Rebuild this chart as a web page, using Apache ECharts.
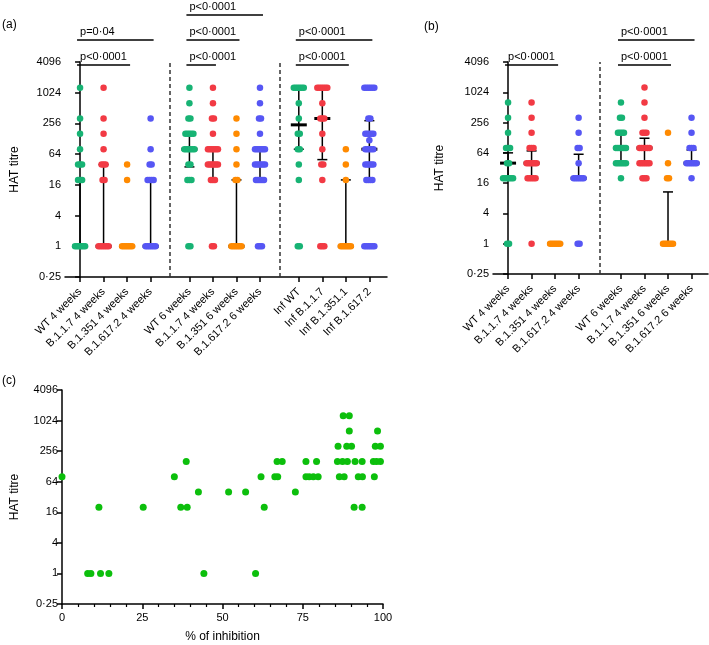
<!DOCTYPE html>
<html>
<head>
<meta charset="utf-8">
<script src="https://cdn.jsdelivr.net/npm/echarts@6/dist/echarts.min.js"></script>
<style>
html, body { margin: 0; padding: 0; background: #fff; }
#main { width: 709px; height: 645px; }
</style>
</head>
<body>
<div id="main"></div>
<script>
// ---- panel (a) ----
const labelsA = ['WT 4 weeks', 'B.1.1.7 4 weeks', 'B.1.351 4 weeks', 'B.1.617.2 4 weeks',
    'WT 6 weeks', 'B.1.1.7 4 weeks', 'B.1.351 6 weeks', 'B.1.617.2 6 weeks',
    'Inf WT', 'Inf B.1.1.7', 'Inf B.1.351.1', 'Inf B.1.617.2'];
const aWT4 = [1280, 320, 160, 80, 40, 40, 40, 20, 20, 20, 1, 1, 1, 1, 1, 1];
const aAlpha4 = [1280, 320, 160, 80, 40, 40, 40, 20, 20, 1, 1, 1, 1, 1, 1];
const aBeta4 = [40, 20, 1, 1, 1, 1, 1, 1];
const aDelta4 = [320, 80, 40, 40, 20, 20, 20, 20, 1, 1, 1, 1, 1, 1];
const aWT6 = [1280, 640, 320, 320, 160, 160, 160, 160, 160, 80, 80, 80, 80, 80, 80, 40, 40, 20, 20, 20, 1, 1];
const aAlpha6 = [1280, 640, 320, 320, 160, 80, 80, 80, 80, 80, 80, 40, 40, 40, 40, 40, 40, 20, 20, 20, 1, 1];
const aBeta6 = [320, 160, 80, 40, 20, 20, 1, 1, 1, 1, 1, 1];
const aDelta6 = [1280, 640, 320, 320, 160, 80, 80, 80, 80, 80, 80, 40, 40, 40, 40, 40, 40, 20, 20, 20, 20, 20, 1, 1, 1];
const aInfWT = [1280, 1280, 1280, 1280, 1280, 1280, 640, 320, 160, 160, 80, 80, 40, 20, 1, 1];
const aInfAlpha = [1280, 1280, 1280, 1280, 1280, 1280, 640, 320, 320, 320, 160, 80, 40, 40, 20, 1, 1, 1];
const aInfBeta = [80, 40, 20, 1, 1, 1, 1, 1, 1];
const aInfDelta = [1280, 1280, 1280, 1280, 1280, 1280, 320, 320, 160, 160, 160, 160, 160, 120,
    80, 80, 80, 80, 80, 40, 40, 40, 40, 40, 20, 20, 20, 20, 1, 1, 1, 1, 1, 1];
const medianA = [1, 1, 1, 1, 80, 40, 1, 40, 240, 320, 1, 80];
const lowA = [1, 1, 1, 1, 36, 20, 1, 20, 80, 50, 1, 20];
const highA = [20, 40, 1, 20, 160, 75, 20, 80, 1280, 1280, 20, 290];
const bracketsA = [
    { from: 0, to: 2, text: 'p<0·0001' }, { from: 0, to: 3, text: 'p=0·04' },
    { from: 4, to: 5, text: 'p<0·0001' }, { from: 4, to: 6, text: 'p<0·0001' }, { from: 4, to: 7, text: 'p<0·0001' },
    { from: 8, to: 10, text: 'p<0·0001' }, { from: 8, to: 11, text: 'p<0·0001' }
];

// ---- panel (b) ----
const labelsB = ['WT 4 weeks', 'B.1.1.7 4 weeks', 'B.1.351 4 weeks', 'B.1.617.2 4 weeks',
    'WT 6 weeks', 'B.1.1.7 4 weeks', 'B.1.351 6 weeks', 'B.1.617.2 6 weeks'];
const bWT4 = [640, 320, 160, 80, 80, 80, 40, 40, 20, 20, 20, 20, 20, 20, 1, 1];
const bAlpha4 = [640, 320, 160, 80, 80, 80, 40, 40, 40, 40, 40, 40, 20, 20, 20, 20, 20, 1];
const bBeta4 = [1, 1, 1, 1, 1, 1];
const bDelta4 = [320, 160, 80, 80, 40, 20, 20, 20, 20, 20, 20, 1, 1];
const bWT6 = [640, 320, 320, 160, 160, 160, 160, 80, 80, 80, 80, 80, 80, 40, 40, 40, 40, 40, 40, 20];
const bAlpha6 = [1280, 640, 320, 160, 160, 160, 80, 80, 80, 80, 80, 80, 40, 40, 40, 40, 40, 40, 20, 20, 20];
const bBeta6 = [160, 40, 20, 20, 1, 1, 1, 1, 1, 1];
const bDelta6 = [320, 160, 80, 80, 80, 40, 40, 40, 40, 40, 40, 20];
const medianB = [40, 40, 1, 20, 80, 80, 1, 40];
const lowB = [20, 20, 1, 20, 40, 40, 1, 40];
const highB = [64, 70, 1, 60, 150, 125, 10.7, 73];
const bracketsB = [
    { from: 0, to: 2, text: 'p<0·0001' },
    { from: 4, to: 6, text: 'p<0·0001' }, { from: 4, to: 7, text: 'p<0·0001' }
];

// ---- panel (c) ----
const inhibition = [0, 8, 9, 12, 14.6, 11.5, 25.3, 35, 38.7, 37, 39, 42.5, 44.2, 51.9, 57.2, 60.3, 62, 63,
    66.3, 67.2, 67, 68.6, 72.7, 76, 76, 77, 78.3, 79.8, 79.3, 86, 85.8, 87.4, 88.9, 86.4, 87.9,
    88.7, 90.2, 89.5, 87.6, 89.5, 91.3, 91, 92.3, 93.6, 93.5, 93.5, 97.3, 97, 98, 99.2, 97.6, 99.2, 98.3];
const inhibTitre = [80, 1, 1, 1, 1, 20, 20, 80, 160, 20, 20, 40, 1, 40, 40, 1, 80, 20,
    80, 80, 160, 160, 40, 160, 80, 80, 80, 80, 160, 320, 160, 160, 160, 80, 80,
    320, 320, 640, 1280, 1280, 160, 20, 80, 80, 160, 20, 80, 160, 160, 160, 320, 320, 640];

const colors = ['#17b374', '#f23a44', '#ff8a00', '#5656f4'];
const font = "'Liberation Sans', Arial, sans-serif";

const colsA = [aWT4, aAlpha4, aBeta4, aDelta4, aWT6, aAlpha6, aBeta6, aDelta6, aInfWT, aInfAlpha, aInfBeta, aInfDelta];
const colsB = [bWT4, bAlpha4, bBeta4, bDelta4, bWT6, bAlpha6, bBeta6, bDelta6];

// column positions on the value x axis: groups of 4 with a gap between them
const posA = labelsA.map((_, i) => i + Math.floor(i / 4) * 0.65);
const posB = labelsB.map((_, i) => i + Math.floor(i / 4) * 0.8);

function spread(vals, pos, step) {
    const counts = {};
    vals.forEach(v => { counts[v] = (counts[v] || 0) + 1; });
    const out = [];
    Object.keys(counts).forEach(k => {
        const n = counts[k];
        for (let i = 0; i < n; i++) out.push([pos + (i - (n - 1) / 2) * step, +k]);
    });
    return out;
}

function fmtTitre(v) {
    return v < 0.5 ? '0·25' : String(Math.round(v));
}

function labelFor(labels, pos) {
    return v => {
        const i = pos.findIndex(p => Math.abs(p - v) < 1e-6);
        return i < 0 ? '' : labels[i];
    };
}

const axisLine = { show: true, lineStyle: { color: '#000', width: 1.5 } };
const axisTick = { show: true, length: 5, lineStyle: { color: '#000', width: 1.5 } };

function yAxisLog(gridIndex, gap) {
    return {
        type: 'log', logBase: 4, min: 0.25, max: 4096, gridIndex: gridIndex,
        axisLine: axisLine, axisTick: axisTick, splitLine: { show: false },
        axisLabel: { formatter: fmtTitre, color: '#000', fontSize: 11, fontFamily: font, margin: 4 },
        name: 'HAT titre', nameLocation: 'middle', nameGap: gap, nameRotate: 90,
        nameTextStyle: { color: '#000', fontSize: 12, fontFamily: font }
    };
}

function xAxisCols(gridIndex, labels, pos, min, max) {
    return {
        type: 'value', gridIndex: gridIndex, min: min, max: max,
        axisLine: axisLine, splitLine: { show: false },
        axisTick: Object.assign({ customValues: pos }, axisTick),
        axisLabel: {
            customValues: pos, rotate: 45, margin: 13, color: '#000', fontSize: 11, fontFamily: font,
            formatter: labelFor(labels, pos)
        }
    };
}

function dotSeries(axisIdx, cols, pos, separators) {
    const list = [];
    for (let c = 0; c < 4; c++) {
        let data = [];
        cols.forEach((vals, i) => { if (i % 4 === c) data = data.concat(spread(vals, pos[i], 0.085)); });
        const s = {
            type: 'scatter', xAxisIndex: axisIdx, yAxisIndex: axisIdx, data: data,
            symbolSize: 6.5, itemStyle: { color: colors[c], opacity: 1 }, z: 3, silent: true
        };
        if (c === 0) {
            s.markLine = {
                silent: true, symbol: 'none', label: { show: false },
                lineStyle: { color: '#333', type: [4, 3], width: 1.5 },
                data: separators.map(x => ({ xAxis: x }))
            };
        }
        list.push(s);
    }
    return list;
}

function errorSeries(axisIdx, pos, med, low, high) {
    return {
        type: 'custom', xAxisIndex: axisIdx, yAxisIndex: axisIdx, z: 2, silent: true,
        encode: { x: 0, y: [1, 2, 3] },
        data: pos.map((p, i) => [p, low[i], med[i], high[i]]),
        renderItem: function (params, api) {
            const lo = api.coord([api.value(0), api.value(1)]);
            const md = api.coord([api.value(0), api.value(2)]);
            const hi = api.coord([api.value(0), api.value(3)]);
            const st = { stroke: '#000', lineWidth: 1.5 };
            return {
                type: 'group', children: [
                    { type: 'line', shape: { x1: lo[0], y1: lo[1], x2: hi[0], y2: hi[1] }, style: st },
                    { type: 'line', shape: { x1: lo[0] - 5, y1: lo[1], x2: lo[0] + 5, y2: lo[1] }, style: st },
                    { type: 'line', shape: { x1: hi[0] - 5, y1: hi[1], x2: hi[0] + 5, y2: hi[1] }, style: st },
                    { type: 'line', shape: { x1: md[0] - 8, y1: md[1], x2: md[0] + 8, y2: md[1] }, style: { stroke: '#000', lineWidth: 3 } }
                ]
            };
        }
    };
}

function bracketSeries(axisIdx, brackets, pos) {
    const levels = brackets.map(b => brackets.filter(o => o.from === b.from && o.to < b.to).length);
    return {
        type: 'custom', xAxisIndex: axisIdx, yAxisIndex: axisIdx, z: 4, silent: true, clip: false,
        encode: { x: [0, 1], y: 2 },
        data: brackets.map(b => [pos[b.from], pos[b.to], 4096]),
        renderItem: function (params, api) {
            const i = params.dataIndex;
            const p1 = api.coord([api.value(0), api.value(2)]);
            const p2 = api.coord([api.value(1), api.value(2)]);
            const y = p1[1] + 3 - levels[i] * 25;
            return {
                type: 'group', children: [
                    { type: 'line', shape: { x1: p1[0] - 3, y1: y, x2: p2[0] + 3, y2: y }, style: { stroke: '#000', lineWidth: 1.5 } },
                    {
                        type: 'text', x: p1[0], y: y - 3,
                        style: { text: brackets[i].text, fill: '#000', font: '11px ' + font, textVerticalAlign: 'bottom', verticalAlign: 'bottom' }
                    }
                ]
            };
        }
    };
}

const chart = echarts.init(document.getElementById('main'), null, { renderer: 'canvas' });

const sepA = [(posA[3] + posA[4]) / 2, (posA[7] + posA[8]) / 2];
const sepB = [(posB[3] + posB[4]) / 2];

chart.setOption({
    animation: false,
    backgroundColor: '#fff',
    textStyle: { fontFamily: font },
    grid: [
        { left: 65, top: 62, width: 322, height: 215 },
        { left: 493, top: 62, width: 215, height: 212 },
        { left: 62, top: 390, width: 321, height: 214 }
    ],
    xAxis: [
        xAxisCols(0, labelsA, posA, -0.64, 13.05),
        xAxisCols(1, labelsB, posB, -0.64, 8.5),
        {
            type: 'value', gridIndex: 2, min: 0, max: 100, interval: 25,
            axisLine: axisLine, axisTick: axisTick, splitLine: { show: false },
            minorTick: { show: true, splitNumber: 5, length: 3, lineStyle: { color: '#000', width: 1.2 } },
            axisLabel: { color: '#000', fontSize: 11, fontFamily: font, margin: 8 },
            name: '% of inhibition', nameLocation: 'middle', nameGap: 27,
            nameTextStyle: { color: '#000', fontSize: 12, fontFamily: font }
        }
    ],
    yAxis: [yAxisLog(0, 44), yAxisLog(1, 47), yAxisLog(2, 41)],
    series: [
        errorSeries(0, posA, medianA, lowA, highA),
        ...dotSeries(0, colsA, posA, sepA),
        bracketSeries(0, bracketsA, posA),
        errorSeries(1, posB, medianB, lowB, highB),
        ...dotSeries(1, colsB, posB, sepB),
        bracketSeries(1, bracketsB, posB),
        {
            type: 'scatter', xAxisIndex: 2, yAxisIndex: 2, symbolSize: 7, silent: true,
            itemStyle: { color: '#0cbf0c', opacity: 1 },
            data: inhibition.map((x, i) => [x, inhibTitre[i]])
        }
    ],
    graphic: [
        { type: 'text', left: 2, top: 19, style: { text: '(a)', font: '12px ' + font, fill: '#000' } },
        { type: 'text', left: 424, top: 21, style: { text: '(b)', font: '12px ' + font, fill: '#000' } },
        { type: 'text', left: 2, top: 375, style: { text: '(c)', font: '12px ' + font, fill: '#000' } }
    ]
});
</script>
</body>
</html>
